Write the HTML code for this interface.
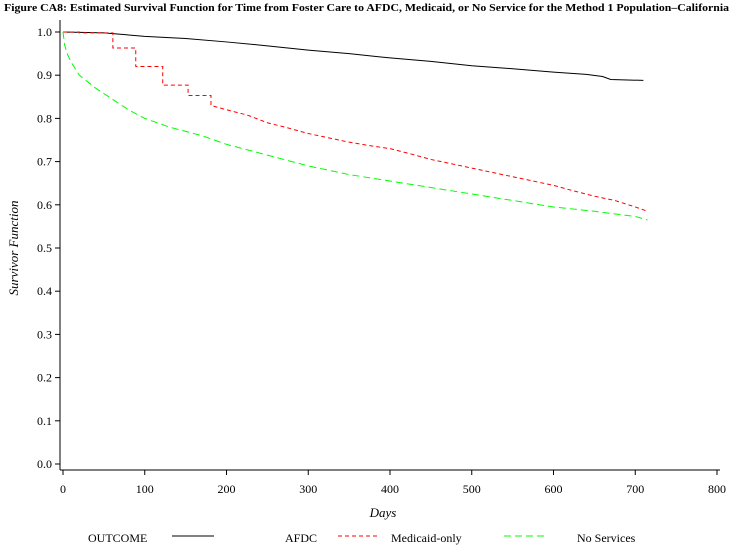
<!DOCTYPE html>
<html><head><meta charset="utf-8"><style>
body{margin:0;background:#fff}
svg text{font-family:"Liberation Serif",serif;fill:#000}
</style></head><body>
<svg width="733" height="550" xmlns="http://www.w3.org/2000/svg">
<text x="4" y="11" font-size="10.5" font-weight="bold" textLength="725" lengthAdjust="spacingAndGlyphs">Figure CA8:  Estimated Survival Function for Time from Foster Care to AFDC, Medicaid, or No Service for the Method 1 Population–California</text>
<g id="axes"></g>
<g id="series"></g>
<text x="383" y="517" font-size="13" font-style="italic" text-anchor="middle">Days</text>
<text transform="translate(18,248) rotate(-90)" font-size="13" font-style="italic" text-anchor="middle">Survivor Function</text>
<g>
<text x="88" y="542" font-size="12">OUTCOME</text>
<line x1="172" y1="536" x2="214" y2="536" stroke="#000"/>
<text x="285" y="542" font-size="12">AFDC</text>
<line x1="338" y1="536" x2="378" y2="536" stroke="#f00" stroke-dasharray="4,3"/>
<text x="391" y="542" font-size="12">Medicaid-only</text>
<line x1="504" y1="536" x2="546" y2="536" stroke="#0f0" stroke-dasharray="7,4"/>
<text x="577" y="542" font-size="12">No Services</text>
</g>
</svg>
<script>
const xTicks=[0,100,200,300,400,500,600,700,800];
const yTicks=[0,0.1,0.2,0.3,0.4,0.5,0.6,0.7,0.8,0.9,1.0];
const afdcDays=[0,50,100,150,200,250,300,350,400,450,500,550,600,640,660,670,710];
const afdcVals=[1,0.998,0.99,0.985,0.977,0.968,0.958,0.95,0.94,0.932,0.922,0.915,0.907,0.902,0.897,0.89,0.888];
const medDays=[0,20,61,89,122,153,181,200,225,250,275,300,325,350,375,400,425,450,475,500,525,550,575,600,625,650,675,700,715];
const medVals=[1,0.998,0.963,0.92,0.877,0.853,0.83,0.82,0.808,0.79,0.778,0.765,0.755,0.745,0.737,0.73,0.718,0.705,0.695,0.685,0.675,0.665,0.655,0.645,0.632,0.62,0.61,0.595,0.585];
const nsDays=[0,2,5,10,20,30,40,60,80,100,130,170,200,250,300,350,400,450,500,550,600,650,700,715];
const nsVals=[1,0.97,0.95,0.93,0.9,0.885,0.87,0.845,0.82,0.8,0.78,0.76,0.74,0.715,0.69,0.67,0.655,0.64,0.625,0.61,0.595,0.585,0.573,0.565];
const NS="http://www.w3.org/2000/svg";
const X=d=>63+d*0.8175, Y=v=>464-432*v;
function mk(tag,attrs,parent){const e=document.createElementNS(NS,tag);for(const k in attrs)e.setAttribute(k,attrs[k]);parent.appendChild(e);return e;}
const ax=document.getElementById('axes');
let l=mk('line',{x1:60,y1:20,x2:60,y2:470,stroke:'#000'},ax);


l=mk('line',{x1:60,y1:470,x2:720,y2:470,stroke:'#000'},ax);


xTicks.forEach(t=>{const x=X(t);
 const tk=mk('line',{x1:x,y1:470,x2:x,y2:475,stroke:'#000'},ax);
 
 
 const tx=mk('text',{x:x,y:493,'font-size':12,'text-anchor':'middle'},ax);tx.textContent=t;
 
 });
yTicks.forEach(t=>{const y=Y(t);
 const tk=mk('line',{x1:55,y1:y,x2:60,y2:y,stroke:'#000'},ax);
 
 
 const tx=mk('text',{x:52,y:y+4,'font-size':12,'text-anchor':'end'},ax);tx.textContent=t.toFixed(1);
 
 });
const sg=document.getElementById('series');
function line(ds,vs,color,dash,name,stepUntil){let pts=[];for(let i=0;i<ds.length;i++){if(i>0&&i<=stepUntil)pts.push(X(ds[i])+','+Y(vs[i-1]));pts.push(X(ds[i])+','+Y(vs[i]));}
 const p=mk('polyline',{points:pts.join(' '),fill:'none',stroke:color,'stroke-width':1,'stroke-dasharray':dash},sg);
 
 }
line(afdcDays,afdcVals,'#000','none','afdc-line',0);
line(medDays,medVals,'#f00','4,3','medicaid-line',6);
line(nsDays,nsVals,'#0f0','7,4','no-services-line',0);
</script>
</body></html>
